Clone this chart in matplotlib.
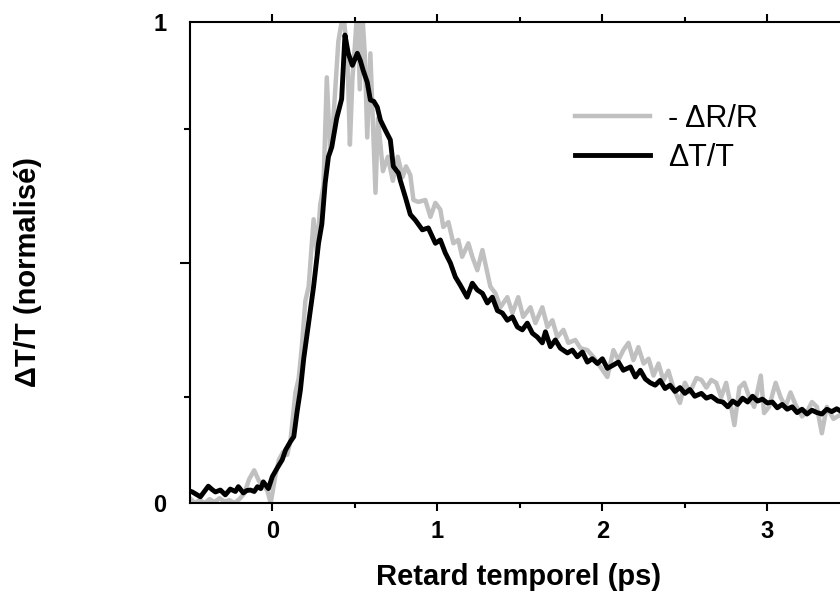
import matplotlib
matplotlib.use('Agg')
import matplotlib.pyplot as plt
from matplotlib.ticker import FixedLocator

plt.rcParams['font.family'] = ['Liberation Sans', 'DejaVu Sans']

# delta T / T (black)
t_trans = [-0.50, -0.485, -0.46, -0.436, -0.41, -0.388, -0.365, -0.345, -0.315, -0.285,
           -0.255, -0.224, -0.206, -0.176, -0.155, -0.133, -0.11, -0.09, -0.07, -0.055,
           -0.024, 0.0, 0.03, 0.06, 0.08, 0.11, 0.13, 0.15, 0.17, 0.19,
           0.21, 0.23, 0.25, 0.28, 0.30, 0.32, 0.34, 0.36, 0.39, 0.42,
           0.44, 0.46, 0.485, 0.515, 0.533, 0.55, 0.575, 0.594, 0.615, 0.636,
           0.655, 0.685, 0.715, 0.733, 0.764, 0.776, 0.806, 0.836, 0.867, 0.909,
           0.945, 0.988, 1.018, 1.048, 1.079, 1.109, 1.139, 1.18, 1.212, 1.242,
           1.273, 1.303, 1.333, 1.364, 1.394, 1.424, 1.455, 1.485, 1.515, 1.545,
           1.576, 1.606, 1.636, 1.655, 1.685, 1.715, 1.745, 1.788, 1.818, 1.848,
           1.879, 1.909, 1.939, 1.97, 2.0, 2.03, 2.067, 2.097, 2.127, 2.17,
           2.2, 2.23, 2.26, 2.29, 2.32, 2.35, 2.38, 2.41, 2.44, 2.47,
           2.5, 2.53, 2.56, 2.6, 2.63, 2.66, 2.7, 2.73, 2.76, 2.79,
           2.82, 2.85, 2.88, 2.91, 2.94, 2.97, 3.0, 3.03, 3.06, 3.09,
           3.12, 3.15, 3.18, 3.21, 3.24, 3.27, 3.30, 3.33, 3.36, 3.39,
           3.42, 3.45]
dt_trans = [0.025, 0.023, 0.018, 0.013, 0.025, 0.035, 0.028, 0.023, 0.027, 0.017,
            0.029, 0.024, 0.034, 0.021, 0.026, 0.027, 0.024, 0.034, 0.030, 0.044,
            0.030, 0.055, 0.073, 0.09, 0.11, 0.128, 0.138, 0.19, 0.235, 0.30,
            0.35, 0.40, 0.45, 0.54, 0.58, 0.665, 0.72, 0.74, 0.80, 0.84,
            0.973, 0.935, 0.91, 0.935, 0.92, 0.90, 0.875, 0.838, 0.835, 0.823,
            0.796, 0.775, 0.755, 0.70, 0.686, 0.67, 0.636, 0.60, 0.588, 0.568,
            0.572, 0.54, 0.547, 0.52, 0.499, 0.47, 0.453, 0.428, 0.457, 0.443,
            0.436, 0.416, 0.428, 0.40, 0.395, 0.38, 0.387, 0.366, 0.36, 0.374,
            0.353, 0.345, 0.333, 0.356, 0.325, 0.339, 0.322, 0.312, 0.318, 0.304,
            0.314, 0.293, 0.30, 0.29, 0.30, 0.28, 0.287, 0.293, 0.276, 0.283,
            0.262, 0.276, 0.258, 0.25, 0.245, 0.255, 0.238, 0.245, 0.232, 0.24,
            0.228, 0.236, 0.222, 0.228, 0.218, 0.222, 0.212, 0.21, 0.20, 0.212,
            0.205, 0.218, 0.21, 0.222, 0.212, 0.216, 0.208, 0.21, 0.198, 0.205,
            0.195, 0.20, 0.188, 0.195, 0.185, 0.193, 0.188, 0.185, 0.195, 0.19,
            0.196, 0.19]

# - delta R / R (grey)
t_refl = [-0.50, -0.47, -0.44, -0.41, -0.38, -0.35, -0.32, -0.29, -0.26, -0.23,
          -0.20, -0.17, -0.14, -0.11, -0.08, -0.05, -0.03, -0.01, 0.02, 0.04,
          0.065, 0.09, 0.11, 0.14, 0.16, 0.18, 0.20, 0.22, 0.25, 0.27,
          0.29, 0.31, 0.33, 0.35, 0.37, 0.40, 0.43, 0.455, 0.47, 0.485,
          0.50, 0.515, 0.53, 0.545, 0.56, 0.575, 0.594, 0.625, 0.64, 0.67,
          0.70, 0.73, 0.76, 0.79, 0.81, 0.836, 0.855, 0.885, 0.927, 0.958,
          0.988, 1.018, 1.036, 1.067, 1.097, 1.127, 1.15, 1.188, 1.212, 1.242,
          1.273, 1.29, 1.321, 1.352, 1.382, 1.424, 1.455, 1.49, 1.52, 1.564,
          1.594, 1.636, 1.667, 1.697, 1.727, 1.764, 1.794, 1.836, 1.867, 1.909,
          1.945, 1.988, 2.03, 2.067, 2.097, 2.127, 2.158, 2.188, 2.218, 2.25,
          2.28, 2.31, 2.34, 2.37, 2.40, 2.43, 2.47, 2.50, 2.53, 2.57,
          2.60, 2.63, 2.66, 2.69, 2.72, 2.75, 2.78, 2.80, 2.83, 2.86,
          2.89, 2.92, 2.96, 2.98, 3.01, 3.05, 3.08, 3.11, 3.14, 3.17,
          3.21, 3.24, 3.27, 3.30, 3.33, 3.36, 3.40, 3.45]
dr_refl = [0.010, 0.0, 0.006, 0.0, 0.008, 0.002, 0.010, 0.003, 0.006, 0.0,
           0.008, 0.020, 0.050, 0.068, 0.045, 0.035, 0.025, 0.0, 0.06, 0.09,
           0.106, 0.10, 0.13, 0.23, 0.26, 0.33, 0.42, 0.45, 0.59, 0.52,
           0.62, 0.66, 0.885, 0.73, 0.80, 0.96, 1.02, 0.93, 0.745, 0.88,
           0.95, 1.03, 0.86, 1.02, 0.935, 0.76, 0.935, 0.645, 0.80, 0.69,
           0.72, 0.67, 0.72, 0.678, 0.70, 0.682, 0.63, 0.626, 0.63, 0.595,
           0.624, 0.61, 0.574, 0.584, 0.54, 0.547, 0.512, 0.54, 0.512, 0.484,
           0.526, 0.499, 0.45, 0.436, 0.407, 0.428, 0.395, 0.428, 0.387, 0.407,
           0.374, 0.407, 0.366, 0.38, 0.345, 0.36, 0.333, 0.339, 0.322, 0.318,
           0.304, 0.283, 0.262, 0.318, 0.297, 0.318, 0.333, 0.297, 0.324, 0.29,
           0.30, 0.265, 0.29, 0.255, 0.275, 0.24, 0.208, 0.25, 0.23, 0.26,
           0.256, 0.24, 0.256, 0.25, 0.22, 0.25, 0.20, 0.162, 0.24, 0.25,
           0.22, 0.20, 0.265, 0.187, 0.20, 0.25, 0.22, 0.20, 0.23, 0.205,
           0.18, 0.19, 0.21, 0.20, 0.145, 0.20, 0.175, 0.185]

x_ticks = [0, 1, 2, 3]
x_minor = [0.5, 1.5, 2.5]

fig = plt.figure(figsize=(8.4, 5.96), dpi=100)
ax = fig.add_axes([0.226, 0.156, 0.774, 0.807])

ax.plot(t_refl, dr_refl, color='#c0c0c0', lw=3.2, label='- \u0394R/R', zorder=2)
ax.plot(t_trans, dt_trans, color='black', lw=3.5, label='\u0394T/T', zorder=3)

ax.set_xlim(-0.5, 3.44)
ax.set_ylim(0, 1)

ax.spines['right'].set_visible(False)
for s in ['top', 'bottom', 'left']:
    ax.spines[s].set_linewidth(1.5)

ax.set_xticks(x_ticks)
ax.set_xticklabels([str(v) for v in x_ticks], fontsize=17, fontweight='bold')
ax.xaxis.set_minor_locator(FixedLocator(x_minor))
ax.tick_params(axis='x', which='both', top=True, bottom=True, direction='out', width=1.5)
ax.tick_params(axis='x', which='major', length=6, pad=6)
ax.tick_params(axis='x', which='minor', length=3.5)

ax.set_yticks([0, 0.499, 1])
ax.set_yticklabels(['0', '', '1'], fontsize=17, fontweight='bold')
ax.yaxis.set_minor_locator(FixedLocator([0.22, 0.777]))
ax.tick_params(axis='y', which='major', length=7, width=1.5, pad=10)
ax.tick_params(axis='y', which='minor', length=4, width=1.5)
yt = ax.yaxis.get_major_ticks()
yt[0].tick1line.set_visible(False)
yt[2].tick1line.set_visible(False)

ax.set_xlabel('Retard temporel (ps)', fontsize=21, fontweight='bold')
ax.xaxis.set_label_coords(0.505, -0.125)
ax.set_ylabel('\u0394T/T (normalisé)', fontsize=21, fontweight='bold')
ax.yaxis.set_label_coords(-0.228, 0.48)

ax.legend(loc='upper left', bbox_to_anchor=(0.592, 0.83), frameon=False, fontsize=22,
          handlelength=2.45, handletextpad=0.6, labelspacing=0.3, borderpad=0,
          borderaxespad=0)

plt.savefig('out.png', dpi=100)
